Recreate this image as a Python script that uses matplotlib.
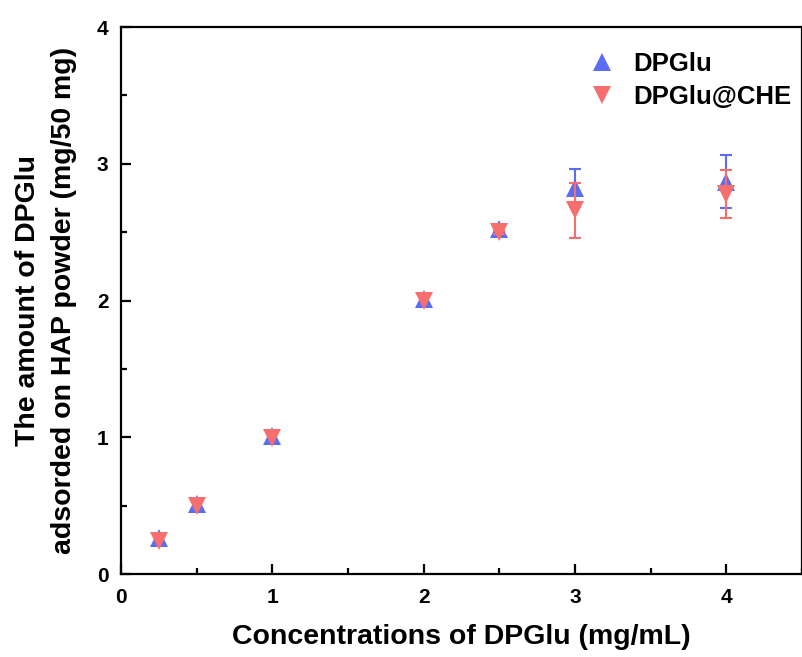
import matplotlib
matplotlib.use("Agg")
import matplotlib.pyplot as plt
from matplotlib.ticker import MultipleLocator

plt.rcParams['font.family'] = ['Liberation Sans', 'DejaVu Sans']
plt.rcParams['font.weight'] = 'bold'

conc = [0.25, 0.5, 1.0, 2.0, 2.5, 3.0, 4.0]
dpglu = [0.26, 0.51, 1.01, 2.01, 2.52, 2.825, 2.87]
dpglu_err = [0.0, 0.0, 0.0, 0.0, 0.01, 0.14, 0.195]
dpglu_che = [0.245, 0.495, 0.995, 1.995, 2.50, 2.66, 2.78]
dpglu_che_err = [0.0, 0.0, 0.0, 0.0, 0.01, 0.20, 0.175]
tick_labels = ['0', '1', '2', '3', '4']

blue = '#5b6cf5'
red = '#f76e6e'

fig = plt.figure(figsize=(8.03, 6.57), dpi=100)
ax = fig.add_axes([0.1507, 0.1263, 0.8478, 0.8326])

def with_err(xs, ys, es):
    sel = [(x, y, e) for x, y, e in zip(xs, ys, es) if e > 0]
    return [s[0] for s in sel], [s[1] for s in sel], [s[2] for s in sel]

bx, by, be = with_err(conc, dpglu, dpglu_err)
rx, ry, re_ = with_err(conc, dpglu_che, dpglu_che_err)

ax.plot(conc, dpglu, '^', color=blue, ms=12.5, mew=0, label='DPGlu', zorder=3)
ax.errorbar(bx, by, yerr=be, fmt='none', ecolor=blue, capsize=4.5,
            elinewidth=1.5, capthick=1.5, zorder=3)
ax.plot(conc, dpglu_che, 'v', color=red, ms=12.5, mew=0, label='DPGlu@CHE', zorder=4)
ax.errorbar(rx, ry, yerr=re_, fmt='none', ecolor=red, capsize=4.5,
            elinewidth=1.5, capthick=1.5, zorder=4)

ax.set_xlim(0, 4.5)
ax.set_ylim(0, 4)
ax.xaxis.set_minor_locator(MultipleLocator(0.5))
ax.yaxis.set_minor_locator(MultipleLocator(0.5))
ax.tick_params(which='both', direction='in', width=1.6)
ax.tick_params(which='major', length=7)
ax.tick_params(which='minor', length=4)
ax.tick_params(axis='x', which='major', pad=10)
ax.tick_params(axis='y', which='major', pad=9)
for s in ax.spines.values():
    s.set_linewidth(1.6)
ax.set_xticks(range(len(tick_labels)))
ax.set_xticklabels(tick_labels, fontsize=15, fontweight='bold')
ax.set_yticks(range(len(tick_labels)))
ax.set_yticklabels(tick_labels, fontsize=15, fontweight='bold')

ax.set_xlabel('Concentrations of DPGlu (mg/mL)', fontsize=20.5, fontweight='bold', labelpad=12)
ax.set_ylabel('The amount of DPGlu\nadsorded on HAP powder (mg/50 mg)', fontsize=20.5,
              fontweight='bold', labelpad=14, linespacing=1.5)

leg = ax.legend(loc='upper right', frameon=False, fontsize=18.5, handletextpad=0.6,
                borderaxespad=0.0, handlelength=1.2, labelspacing=0.33,
                bbox_to_anchor=(1.0, 0.9726))

fig.savefig('out.png', dpi=100)
